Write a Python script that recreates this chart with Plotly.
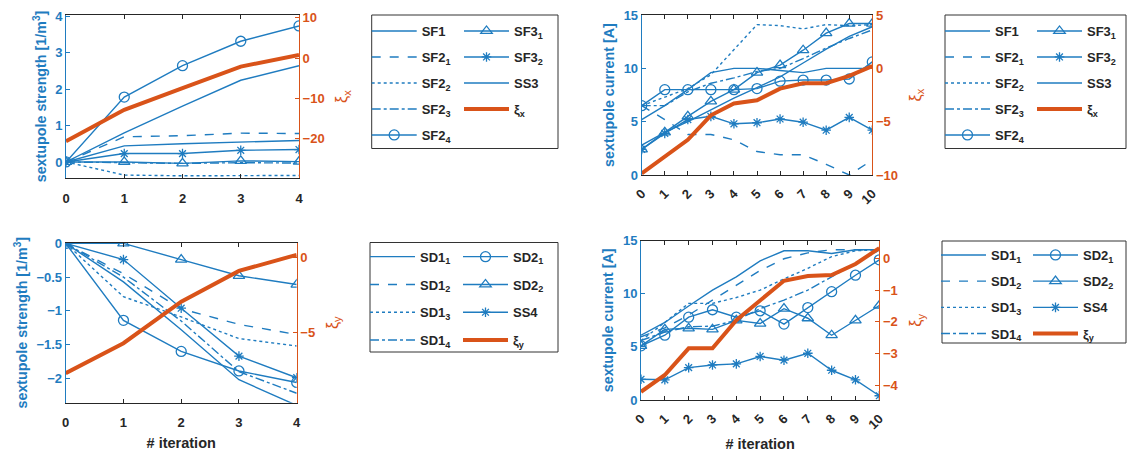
import plotly.graph_objects as go

W, H = 1128, 452
BLUE = "#1f7cc0"
ORANGE = "#d95319"
DARK = "#262626"
FONT = "Liberation Sans, Arial, sans-serif"

# ---------------- data ----------------
iter_tl = [0, 1, 2, 3, 4]
iter_tr = [0, 1, 2, 3, 4, 5, 6, 7, 8, 9, 10]

# top-left: sextupole strength (focusing), xi_x
tl_SF1 = [0, 0.80, 1.53, 2.24, 2.64]
tl_SF2_1 = [0, 0.69, 0.72, 0.79, 0.78]
tl_SF2_2 = [0, -0.36, -0.38, -0.37, -0.37]
tl_SF2_3 = [0, -0.03, -0.04, -0.02, -0.03]
tl_SF2_4 = [0, 1.78, 2.64, 3.31, 3.73]
tl_SF3_1 = [0, 0.00, -0.04, 0.03, 0.01]
tl_SF3_2 = [0, 0.23, 0.23, 0.32, 0.34]
tl_SS3 = [0, 0.44, 0.50, 0.55, 0.59]
tl_xi = [-20.6, -12.8, -7.4, -2.1, 0.8]

# top-right: sextupole current (focusing), xi_x
tr_SF1 = [2.8, 4.0, 5.0, 6.1, 7.2, 8.2, 9.2, 10.5, 11.8, 13.0, 13.9]
tr_SF2_1 = [6.5, 5.2, 3.8, 3.8, 3.3, 2.2, 1.9, 1.9, 1.0, 0.0, 1.4]
tr_SF2_2 = [6.5, 7.3, 8.1, 9.4, 11.8, 14.1, 14.0, 13.7, 14.1, 14.0, 14.1]
tr_SF2_3 = [6.5, 6.5, 7.8, 8.6, 9.1, 9.7, 10.0, 10.9, 11.9, 12.8, 13.6]
tr_SF2_4 = [6.5, 8.0, 8.0, 8.0, 8.0, 8.1, 8.8, 8.9, 8.9, 9.0, 10.6]
tr_SF3_1 = [2.4, 4.0, 5.5, 6.9, 8.0, 9.6, 10.3, 11.7, 13.3, 14.2, 14.2]
tr_SF3_2 = [2.4, 3.9, 5.2, 5.5, 4.8, 4.9, 5.25, 4.95, 4.2, 5.4, 4.2]
tr_SS3 = [5.2, 6.5, 8.0, 9.6, 10.0, 10.0, 9.8, 9.6, 10.0, 10.0, 10.0]
tr_xi = [-9.85, -8.3, -6.7, -4.4, -3.3, -3.0, -1.9, -1.4, -1.4, -0.7, 0.2]

# bottom-left: sextupole strength (defocusing), xi_y
bl_SD1_1 = [0, -0.57, -1.28, -2.02, -2.40]
bl_SD1_2 = [0, -0.45, -0.97, -1.20, -1.35]
bl_SD1_3 = [0, -0.79, -1.09, -1.41, -1.52]
bl_SD1_4 = [0, -0.50, -1.15, -1.90, -2.22]
bl_SD2_1 = [0, -1.14, -1.60, -1.89, -2.06]
bl_SD2_2 = [0, 0.00, -0.24, -0.48, -0.61]
bl_SS4 = [0, -0.24, -0.96, -1.67, -1.99]
bl_xi = [-7.73, -5.73, -2.96, -0.91, 0.16]

# bottom-right: sextupole current (defocusing), xi_y
br_SD1_1 = [6.1, 7.3, 8.85, 10.35, 11.6, 13.1, 14.05, 14.05, 13.8, 14.15, 14.15]
br_SD1_2 = [5.95, 6.8, 8.0, 9.4, 10.8, 12.2, 13.3, 13.85, 14.15, 14.15, 14.15]
br_SD1_3 = [5.6, 7.3, 9.1, 9.1, 9.65, 10.35, 11.4, 12.4, 13.5, 14.05, 14.15]
br_SD1_4 = [5.6, 6.4, 6.9, 6.95, 7.5, 8.6, 9.4, 10.35, 11.6, 12.85, 14.1]
br_SD2_1 = [5.1, 6.1, 7.8, 8.5, 7.8, 8.4, 7.15, 8.7, 10.2, 11.75, 13.2]
br_SD2_2 = [5.1, 6.65, 6.75, 6.65, 7.5, 7.2, 8.6, 7.7, 6.1, 7.5, 8.9]
br_SS4 = [1.95, 1.9, 3.05, 3.3, 3.4, 4.1, 3.75, 4.4, 2.8, 1.9, 0.4]
br_xi = [-4.21, -3.68, -2.84, -2.84, -1.95, -1.32, -0.71, -0.56, -0.53, -0.18, 0.32]

fig = go.Figure()

STY = {
    "solid": dict(dash="solid", symbol=None),
    "dash": dict(dash="dash", symbol=None),
    "dot": dict(dash="dot", symbol=None),
    "dashdot": dict(dash="dashdot", symbol=None),
    "circle": dict(dash="solid", symbol="circle-open"),
    "tri": dict(dash="solid", symbol="triangle-up-open"),
    "star": dict(dash="solid", symbol="asterisk-open"),
}
MSIZE = {"circle-open": 10, "triangle-up-open": 10, "asterisk-open": 8}


def add_line(x, y, name, xa, ya, legend, style):
    s = STY[style]
    mode = "lines+markers" if s["symbol"] else "lines"
    kw = dict(
        x=x, y=y, name=name, xaxis=xa, yaxis=ya, mode=mode,
        legend=legend, legendgroup=legend + name,
        line=dict(color=BLUE, width=1.4, dash=s["dash"]),
    )
    if s["symbol"]:
        kw["marker"] = dict(symbol=s["symbol"], size=MSIZE[s["symbol"]],
                            color=BLUE, line=dict(color=BLUE, width=1.3))
    fig.add_trace(go.Scatter(**kw))


def add_xi(x, y, name, xa, ya, legend):
    fig.add_trace(go.Scatter(x=x, y=y, name=name, xaxis=xa, yaxis=ya, mode="lines",
                             legend=legend, legendgroup=legend + name,
                             line=dict(color=ORANGE, width=4)))


# top-left
add_line(iter_tl, tl_SF1, "SF1", "x", "y", "legend", "solid")
add_line(iter_tl, tl_SF2_1, "SF2<sub>1</sub>", "x", "y", "legend", "dash")
add_line(iter_tl, tl_SF2_2, "SF2<sub>2</sub>", "x", "y", "legend", "dot")
add_line(iter_tl, tl_SF2_3, "SF2<sub>3</sub>", "x", "y", "legend", "dashdot")
add_line(iter_tl, tl_SF2_4, "SF2<sub>4</sub>", "x", "y", "legend", "circle")
add_line(iter_tl, tl_SF3_1, "SF3<sub>1</sub>", "x", "y", "legend2", "tri")
add_line(iter_tl, tl_SF3_2, "SF3<sub>2</sub>", "x", "y", "legend2", "star")
add_line(iter_tl, tl_SS3, "SS3", "x", "y", "legend2", "solid")
add_xi(iter_tl, tl_xi, "ξ<sub>x</sub>", "x", "y2", "legend2")

# top-right
add_line(iter_tr, tr_SF1, "SF1", "x2", "y3", "legend3", "solid")
add_line(iter_tr, tr_SF2_1, "SF2<sub>1</sub>", "x2", "y3", "legend3", "dash")
add_line(iter_tr, tr_SF2_2, "SF2<sub>2</sub>", "x2", "y3", "legend3", "dot")
add_line(iter_tr, tr_SF2_3, "SF2<sub>3</sub>", "x2", "y3", "legend3", "dashdot")
add_line(iter_tr, tr_SF2_4, "SF2<sub>4</sub>", "x2", "y3", "legend3", "circle")
add_line(iter_tr, tr_SF3_1, "SF3<sub>1</sub>", "x2", "y3", "legend4", "tri")
add_line(iter_tr, tr_SF3_2, "SF3<sub>2</sub>", "x2", "y3", "legend4", "star")
add_line(iter_tr, tr_SS3, "SS3", "x2", "y3", "legend4", "solid")
add_xi(iter_tr, tr_xi, "ξ<sub>x</sub>", "x2", "y4", "legend4")

# bottom-left
add_line(iter_tl, bl_SD1_1, "SD1<sub>1</sub>", "x3", "y5", "legend5", "solid")
add_line(iter_tl, bl_SD1_2, "SD1<sub>2</sub>", "x3", "y5", "legend5", "dash")
add_line(iter_tl, bl_SD1_3, "SD1<sub>3</sub>", "x3", "y5", "legend5", "dot")
add_line(iter_tl, bl_SD1_4, "SD1<sub>4</sub>", "x3", "y5", "legend5", "dashdot")
add_line(iter_tl, bl_SD2_1, "SD2<sub>1</sub>", "x3", "y5", "legend6", "circle")
add_line(iter_tl, bl_SD2_2, "SD2<sub>2</sub>", "x3", "y5", "legend6", "tri")
add_line(iter_tl, bl_SS4, "SS4", "x3", "y5", "legend6", "star")
add_xi(iter_tl, bl_xi, "ξ<sub>y</sub>", "x3", "y6", "legend6")

# bottom-right
add_line(iter_tr, br_SD1_1, "SD1<sub>1</sub>", "x4", "y7", "legend7", "solid")
add_line(iter_tr, br_SD1_2, "SD1<sub>2</sub>", "x4", "y7", "legend7", "dash")
add_line(iter_tr, br_SD1_3, "SD1<sub>3</sub>", "x4", "y7", "legend7", "dot")
add_line(iter_tr, br_SD1_4, "SD1<sub>4</sub>", "x4", "y7", "legend7", "dashdot")
add_line(iter_tr, br_SD2_1, "SD2<sub>1</sub>", "x4", "y7", "legend8", "circle")
add_line(iter_tr, br_SD2_2, "SD2<sub>2</sub>", "x4", "y7", "legend8", "tri")
add_line(iter_tr, br_SS4, "SS4", "x4", "y7", "legend8", "star")
add_xi(iter_tr, br_xi, "ξ<sub>y</sub>", "x4", "y8", "legend8")


def xd(a, b):
    return [a / W, b / W]


def yd(top, bottom):
    return [1 - bottom / H, 1 - top / H]


TICKF = dict(family=FONT, size=13, color=DARK, weight="bold")


def xaxis(dom, anchor, rng, dtick, angle, title, lab_off):
    d = dict(domain=dom, anchor=anchor, range=rng, dtick=dtick, tick0=0,
             showline=True, linecolor=DARK, linewidth=1, mirror="ticks",
             ticks="inside", ticklen=4, tickcolor=DARK, showgrid=False, zeroline=False,
             tickfont=TICKF, tickangle=angle, automargin=False,
             ticklabelstandoff=lab_off)
    if title:
        d["title"] = dict(text=title, font=dict(family=FONT, size=14.5, color=DARK, weight="bold"),
                          standoff=8)
    return d


def yleft(dom, anchor, rng, dtick, title):
    return dict(domain=dom, anchor=anchor, range=rng, dtick=dtick, tick0=0, side="left",
                showline=True, linecolor=BLUE, linewidth=1, ticks="inside", ticklen=4,
                tickcolor=BLUE, showgrid=False, zeroline=False, automargin=False,
                tickfont=dict(family=FONT, size=13, color=BLUE, weight="bold"),
                title=dict(text=title, standoff=5,
                           font=dict(family=FONT, size=14.3, color=BLUE, weight="bold")))


def yright(anchor, overlay, rng, dtick, title):
    return dict(anchor=anchor, overlaying=overlay, side="right", range=rng, dtick=dtick, tick0=0,
                showline=True, linecolor=ORANGE, linewidth=1, ticks="inside", ticklen=4,
                tickcolor=ORANGE, showgrid=False, zeroline=False, automargin=False,
                tickfont=dict(family=FONT, size=13, color=ORANGE, weight="bold"),
                title=dict(text=title, standoff=12,
                           font=dict(family=FONT, size=16, color=ORANGE)))


S_TITLE = "sextupole strength [1/m<sup>3</sup>]"
C_TITLE = "sextupole current [A]"

layout = dict(
    width=W, height=H, margin=dict(l=0, r=0, t=0, b=0),
    paper_bgcolor="white", plot_bgcolor="white",
    font=dict(family=FONT),
    xaxis=xaxis(xd(66, 299), "y", [0, 4], 1, 0, None, 8),
    yaxis=yleft(yd(15, 178), "x", [-0.44, 4.03], 1, S_TITLE),
    yaxis2=yright("x", "y", [-29.7, 10.7], 10, "ξ<sub>x</sub>"),
    xaxis2=xaxis(xd(641.7, 872.3), "y3", [0, 10], 1, -45, None, 5),
    yaxis3=yleft(yd(15, 175), "x2", [0, 15], 5, C_TITLE),
    yaxis4=yright("x2", "y3", [-10, 5], 5, "ξ<sub>x</sub>"),
    xaxis3=xaxis(xd(65.7, 296.7), "y5", [0, 4], 1, 0, "# iteration", 8),
    yaxis5=yleft(yd(242.7, 402.7), "x3", [-2.36, 0.01], 0.5, S_TITLE),
    yaxis6=yright("x3", "y5", [-9.7, 0.97], 5, "ξ<sub>y</sub>"),
    xaxis4=xaxis(xd(641, 879.3), "y7", [0, 10], 1, -45, "# iteration", 5),
    yaxis7=yleft(yd(240.7, 400), "x4", [0, 15], 5, C_TITLE),
    yaxis8=yright("x4", "y7", [-4.47, 0.555], 1, "ξ<sub>y</sub>"),
)

ITEMW = 45


def leg(textx, top, gap):
    return dict(x=(textx - (ITEMW + 10)) / W, y=1 - top / H, xanchor="left", yanchor="top",
                orientation="v", traceorder="grouped", tracegroupgap=gap, itemwidth=ITEMW,
                bgcolor="rgba(0,0,0,0)", borderwidth=0,
                font=dict(family=FONT, size=13, color=DARK, weight="bold"))


layout["legend"] = leg(421.7, 16, 6.1)
layout["legend2"] = leg(514, 16, 6.1)
layout["legend3"] = leg(995, 16, 6.1)
layout["legend4"] = leg(1087, 16, 6.1)
layout["legend5"] = leg(420, 241.7, 7.9)
layout["legend6"] = leg(513, 241.7, 7.9)
layout["legend7"] = leg(991, 240, 6.3)
layout["legend8"] = leg(1083, 240, 6.3)

boxes = [(371.7, 15, 558, 148.5), (945, 15, 1126, 148.5),
         (370, 242.5, 558, 352), (942, 241, 1126, 343)]
layout["shapes"] = [dict(type="rect", xref="paper", yref="paper",
                         x0=a / W, x1=c / W, y0=1 - d / H, y1=1 - b / H,
                         line=dict(color="#333333", width=1), fillcolor="rgba(0,0,0,0)")
                    for (a, b, c, d) in boxes]

fig.update_layout(**layout)
fig.write_html("out.html")
